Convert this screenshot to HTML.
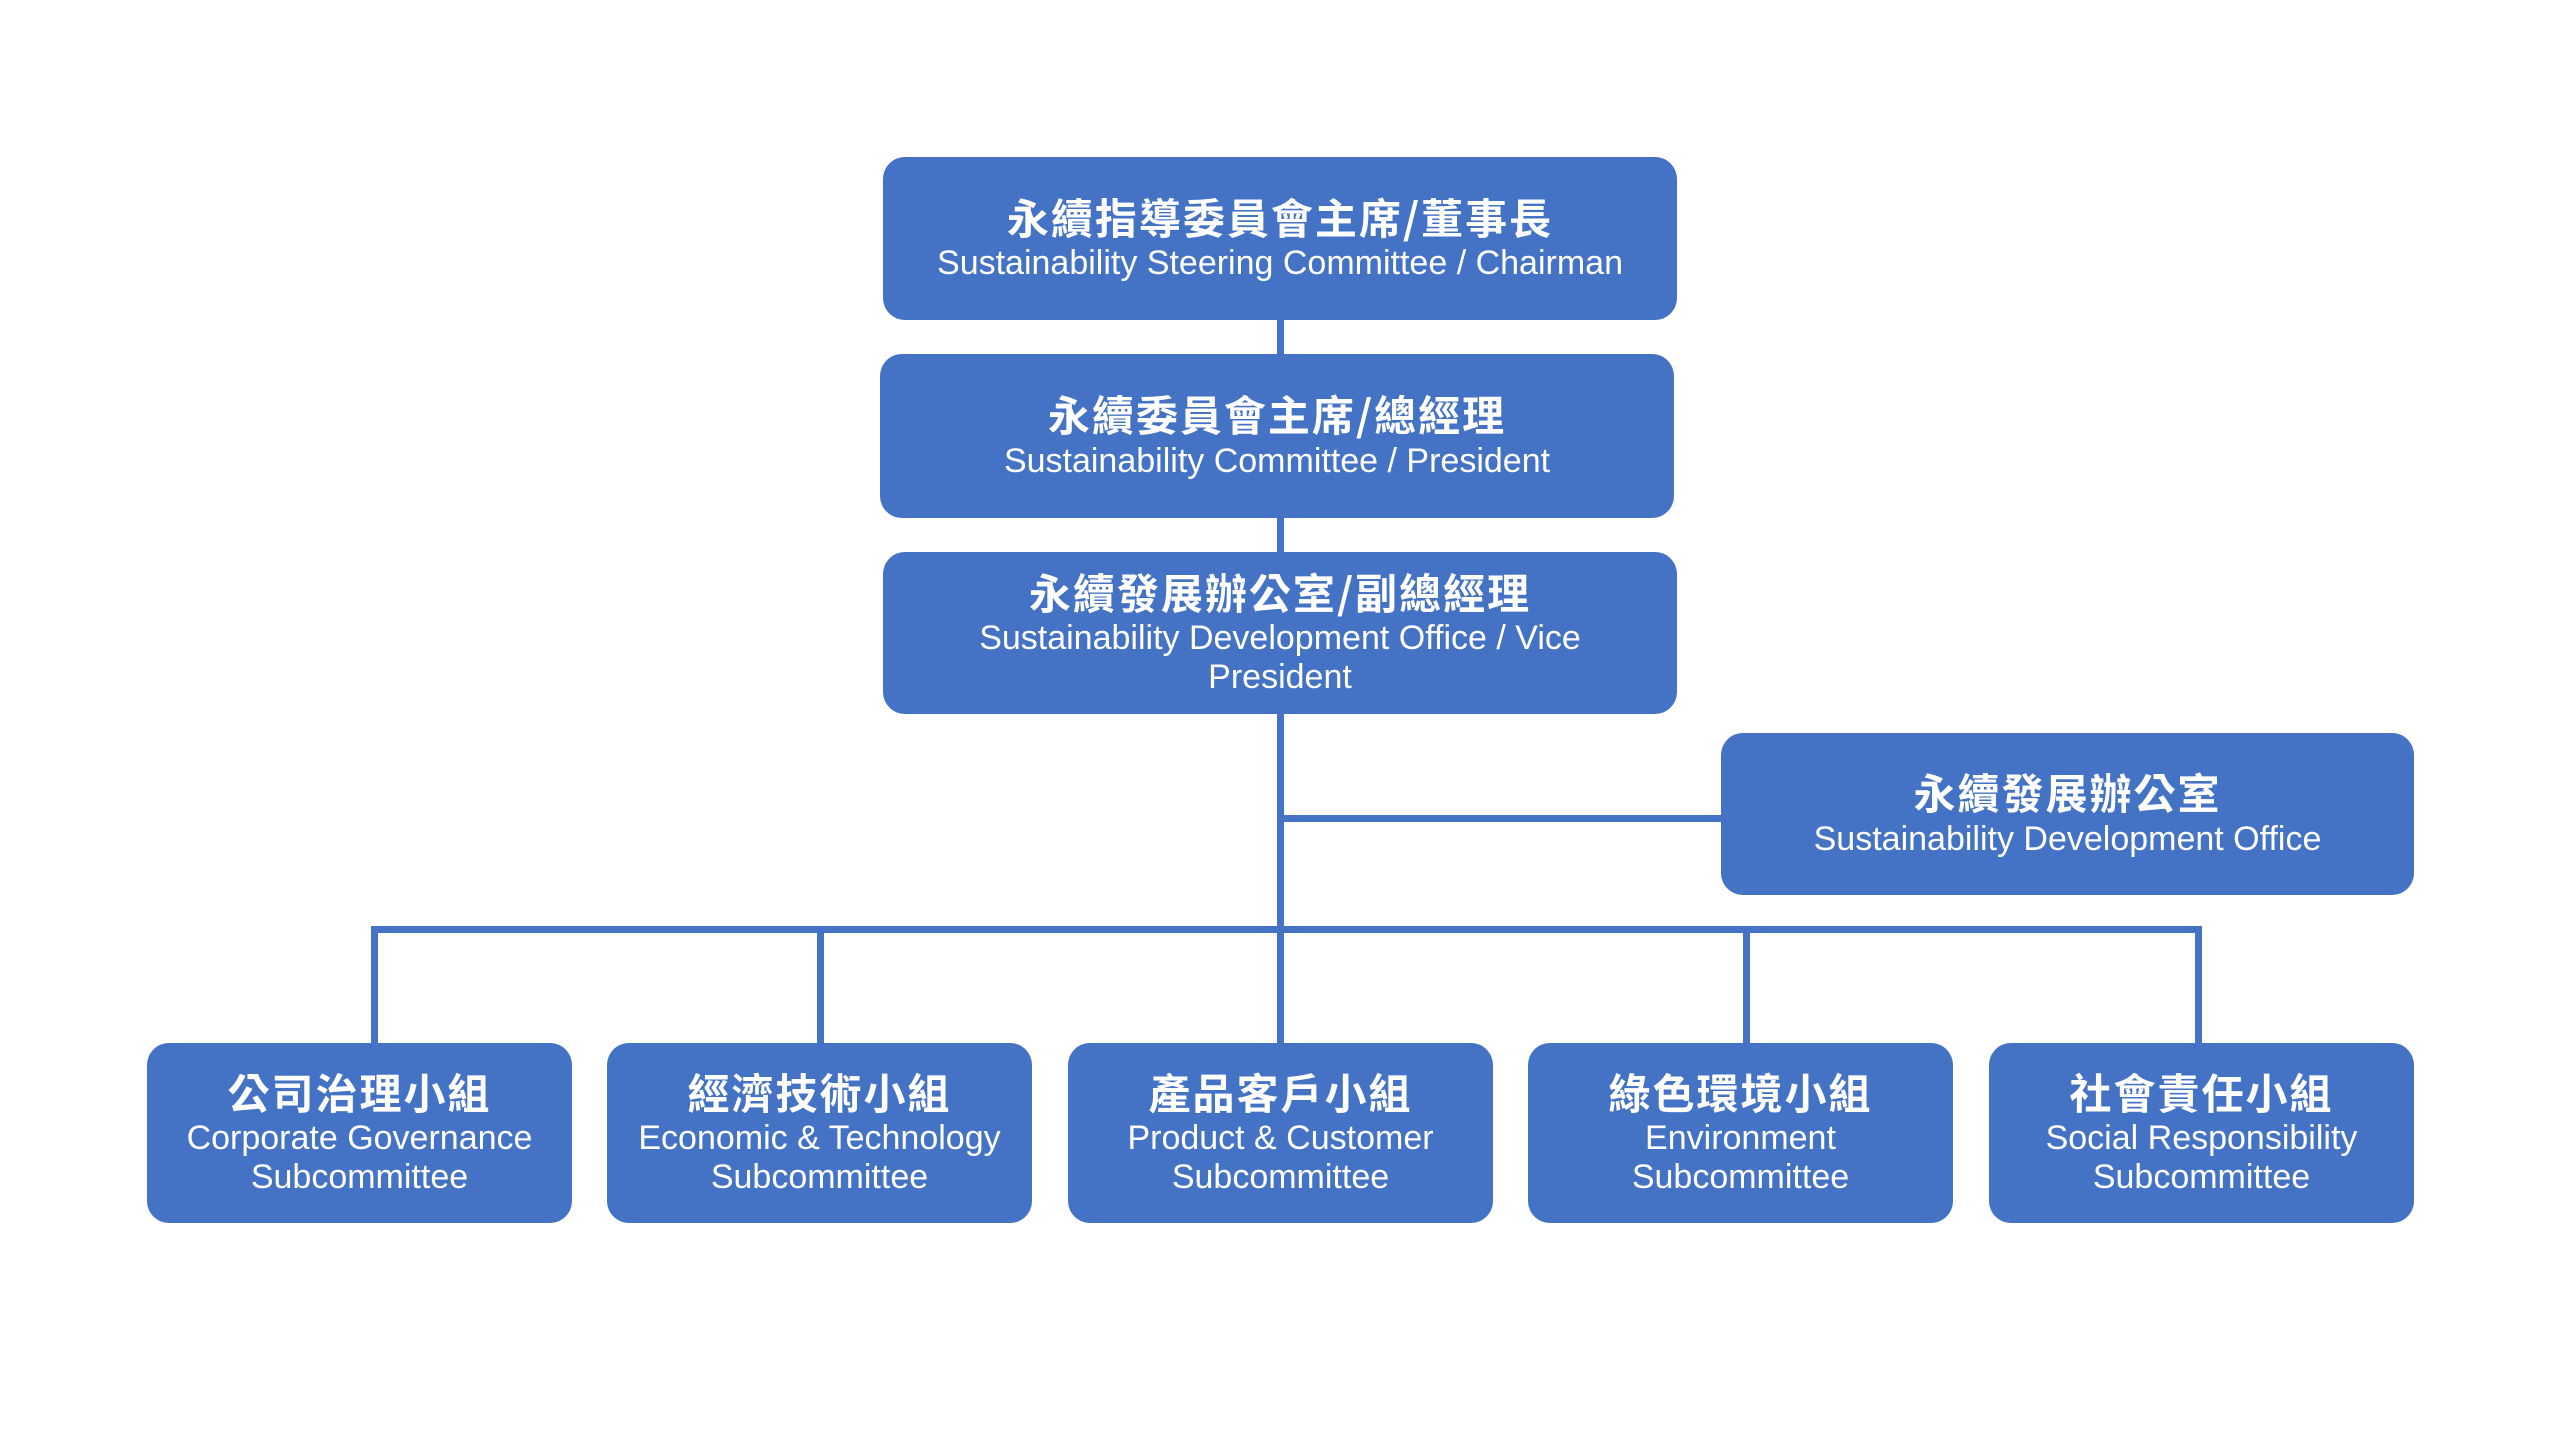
<!DOCTYPE html>
<html><head><meta charset="utf-8"><style>
body{margin:0;width:2560px;height:1440px;background:#fff;position:relative;overflow:hidden;font-family:"Liberation Sans","Noto Sans CJK TC",sans-serif}
.b{position:absolute;background:#4472C4;border-radius:22px;color:#fff;display:flex;flex-direction:column;align-items:center;justify-content:center;text-align:center;line-height:1.2}
.b .c{font-family:"Noto Sans CJK TC",sans-serif;font-weight:bold;font-size:42px;letter-spacing:2px;line-height:1.1}
.b .e{font-size:34px;line-height:39px;margin-top:4px}
.l{position:absolute;background:#4472C4}
</style></head><body>
<div class="l" style="left:1277px;top:310px;width:7px;height:620px"></div>
<div class="l" style="left:1277px;top:815px;width:450px;height:7px"></div>
<div class="l" style="left:371px;top:926px;width:1831px;height:7px"></div>
<div class="l" style="left:371px;top:926px;width:7px;height:120px"></div>
<div class="l" style="left:817px;top:926px;width:7px;height:120px"></div>
<div class="l" style="left:1277px;top:926px;width:7px;height:120px"></div>
<div class="l" style="left:1743px;top:926px;width:7px;height:120px"></div>
<div class="l" style="left:2195px;top:926px;width:7px;height:120px"></div>

<div class="b" style="left:883px;top:157px;width:794px;height:163px"><div class="c">永續指導委員會主席/董事長</div><div class="e">Sustainability Steering Committee / Chairman</div></div>
<div class="b" style="left:880px;top:354px;width:794px;height:164px"><div class="c">永續委員會主席/總經理</div><div class="e">Sustainability Committee / President</div></div>
<div class="b" style="left:883px;top:552px;width:794px;height:162px"><div class="c">永續發展辦公室/副總經理</div><div class="e">Sustainability Development Office / Vice<br>President</div></div>
<div class="b" style="left:1721px;top:733px;width:693px;height:162px"><div class="c">永續發展辦公室</div><div class="e">Sustainability Development Office</div></div>

<div class="b" style="left:147px;top:1043px;width:425px;height:180px"><div class="c">公司治理小組</div><div class="e">Corporate Governance<br>Subcommittee</div></div>
<div class="b" style="left:607px;top:1043px;width:425px;height:180px"><div class="c">經濟技術小組</div><div class="e">Economic &amp; Technology<br>Subcommittee</div></div>
<div class="b" style="left:1068px;top:1043px;width:425px;height:180px"><div class="c">產品客戶小組</div><div class="e">Product &amp; Customer<br>Subcommittee</div></div>
<div class="b" style="left:1528px;top:1043px;width:425px;height:180px"><div class="c">綠色環境小組</div><div class="e">Environment<br>Subcommittee</div></div>
<div class="b" style="left:1989px;top:1043px;width:425px;height:180px"><div class="c">社會責任小組</div><div class="e">Social Responsibility<br>Subcommittee</div></div>
</body></html>
